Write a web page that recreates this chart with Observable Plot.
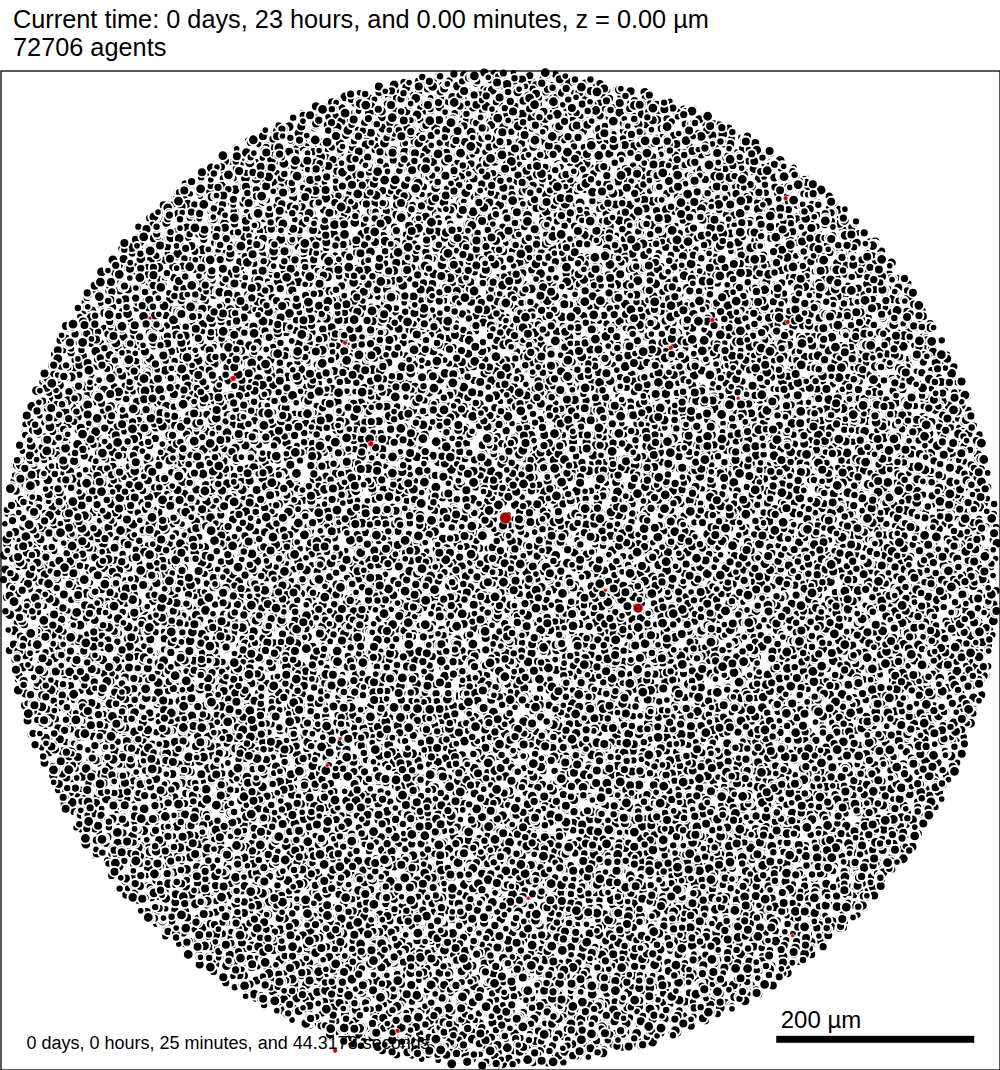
<!DOCTYPE html>
<html><head><meta charset="utf-8">
<script src="https://cdn.jsdelivr.net/npm/d3@7"></script>
<script src="https://cdn.jsdelivr.net/npm/@observablehq/plot@0.6"></script>
<style>
body{margin:0;background:#fff;font-family:"Liberation Sans",Arial,sans-serif;}
#title{position:absolute;left:13px;top:5px;font-size:25.3px;line-height:28px;color:#000;white-space:nowrap}
#chart{position:absolute;left:0;top:70px;}
</style></head><body>
<div id="title"></div>
<div id="chart"></div>
<script>
// ---- values ----
const titleLines = ["Current time: 0 days, 23 hours, and 0.00 minutes, z = 0.00 µm", "72706 agents"];
const timeLabel = "0 days, 0 hours, 25 minutes, and 44.3178 seconds";
const scaleLabel = "200 µm";
const domainUm = [-505, 505];
const tissueCenterUm = [0, 2];
const tissueRadiusUm = 503;
const agentCount = 72706;
const columnCount = 15200;              // visible cell stacks in the slice (estimate)
const stackSizes = [1, 1, 2];            // overlapping cells per stack (estimate)
const stackOffsetUm = 2.0;
const cellRadiiUm = [3.8, 4.2, 4.6, 5.0, 5.4];
// red (other type) cells, µm
const redCellX = [5, 139, -270, -157, -131, 288, 214, 290, 172, 240, -162, -175, 28, 295, -104, -167, -354, 106];
const redCellY = [53, -38, 194, 230, 128, 376, 253, 251, 225, 174, -170, -197, -331, -369, -465, -485, 255, -20];
const redCellR = [6, 5, 3, 2.5, 3, 2.5, 2.5, 2.5, 2.5, 2, 2, 2, 2, 2, 2.5, 2.5, 2, 2];
const redCellColor = ["#a50000", "#a00000", "#d00000", "#e00000", "#d00000", "#d00000", "#e00000", "#c00000", "#e00000", "#d00000", "#e00000", "#e00000", "#e00000", "#e00000", "#e00000", "#e00000", "#e00000", "#e00000"];
const scaleBarXUm = [279, 479];
const scaleBarYUm = [-477.5, -470.5];

// ---- layout of the slice (approximate texture of the cell cross-sections) ----
function halton(i, b) { let f = 1, r = 0; while (i > 0) { f /= b; r += f * (i % b); i = Math.floor(i / b); } return r; }
const cells = [];
for (let i = 0; i < columnCount; i++) {
  const k = i + 37;
  const rr = tissueRadiusUm * Math.sqrt(halton(k, 2));
  const th = 2 * Math.PI * halton(k, 3);
  const cx = tissueCenterUm[0] + rr * Math.cos(th);
  const cy = tissueCenterUm[1] + rr * Math.sin(th);
  const m = stackSizes[Math.floor(halton(k, 7) * stackSizes.length)];
  const phi = 2 * Math.PI * halton(k, 11);
  const r = cellRadiiUm[Math.floor(halton(k, 5) * cellRadiiUm.length)];
  for (let j = m - 1; j >= 0; j--) {
    const x = cx + j * stackOffsetUm * Math.cos(phi), y = cy + j * stackOffsetUm * Math.sin(phi);
    if (Math.hypot(x - tissueCenterUm[0], y - tissueCenterUm[1]) <= tissueRadiusUm) cells.push({x, y, r});
  }
}
const redCells = redCellX.map((x, i) => ({x, y: redCellY[i], r: redCellR[i], c: redCellColor[i]}));

document.getElementById("title").innerHTML = titleLines.map(t => `<div>${t}</div>`).join("");

const plot = Plot.plot({
  width: 1000, height: 1000, margin: 0,
  x: {domain: domainUm, axis: null},
  y: {domain: domainUm, axis: null},
  r: {type: "linear", domain: [0, domainUm[1]], range: [0, 500]},
  style: {overflow: "visible", background: "transparent"},
  marks: [
    Plot.dot(cells, {x: "x", y: "y", r: "r", fill: "black", stroke: "white", strokeWidth: 1.9, sort: null}),
    Plot.dot(redCells, {x: "x", y: "y", r: "r", fill: "c", stroke: "white", strokeWidth: 0.6, sort: null}),
    Plot.frame({stroke: "black", strokeWidth: 1.3, inset: 0.5}),
    Plot.rect([scaleBarXUm], {x1: d => d[0], x2: d => d[1], y1: () => scaleBarYUm[0], y2: () => scaleBarYUm[1], fill: "black"}),
    Plot.text([scaleLabel], {x: () => scaleBarXUm[0], y: () => scaleBarYUm[1], dx: 4, dy: -8, textAnchor: "start", lineAnchor: "bottom", fontSize: 24, fontFamily: "Liberation Sans", fill: "black"}),
    Plot.text([timeLabel], {frameAnchor: "bottom-left", dx: 26, dy: -22, textAnchor: "start", lineAnchor: "bottom", fontSize: 18, fontFamily: "Liberation Sans", fill: "black"})
  ]
});
plot.setAttribute("style", "overflow:visible;background:transparent;display:block");
document.getElementById("chart").appendChild(plot);
</script>
</body></html>
